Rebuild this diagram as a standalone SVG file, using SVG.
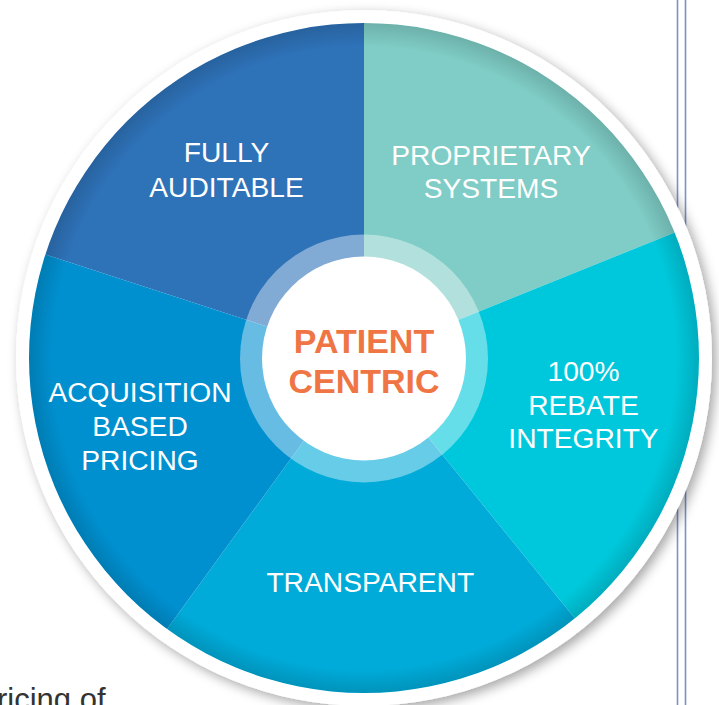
<svg xmlns="http://www.w3.org/2000/svg" width="719" height="705" viewBox="0 0 719 705">
  <defs>
    <style>
      .lbl { font-family: "Liberation Sans", Arial, sans-serif; font-size: 28.2px; fill: #ffffff; text-anchor: middle; }
      .ctr { font-family: "Liberation Sans", Arial, sans-serif; font-size: 34px; font-weight: bold; fill: #F07545; text-anchor: middle; }
      .vline { stroke: #7b93c6; stroke-width: 1.6; fill: none; }
    </style>
    <filter id="shadow" x="-10%" y="-10%" width="125%" height="125%">
      <feDropShadow dx="4" dy="4" stdDeviation="6" flood-color="#000000" flood-opacity="0.35"/>
    </filter>
    <clipPath id="disc">
      <circle cx="364" cy="358" r="335"/>
    </clipPath>
    <radialGradient id="edge" cx="364" cy="358" r="335" gradientUnits="userSpaceOnUse">
      <stop offset="0.93" stop-color="#000" stop-opacity="0"/>
      <stop offset="1" stop-color="#000" stop-opacity="0.14"/>
    </radialGradient>
  </defs>

  <rect width="719" height="705" fill="#ffffff"/>

  <line class="vline" x1="677.5" y1="0" x2="677.5" y2="705"/>
  <line class="vline" x1="685.5" y1="0" x2="685.5" y2="705"/>

  <text x="-3" y="710" font-family="Liberation Sans, Arial, sans-serif" font-size="31" fill="#333333">ricing of</text>

  <circle cx="364" cy="358" r="348" fill="#ffffff" filter="url(#shadow)"/>

  <g clip-path="url(#disc)">
    <g id="fully-auditable">
      <polygon points="364,358 -111.5,203.5 364,-142" fill="#2E72B8"/>
      <text class="lbl" x="226.5" y="161.7">FULLY</text>
      <text class="lbl" x="226.5" y="196.5">AUDITABLE</text>
    </g>
    <g id="proprietary-systems">
      <polygon points="364,358 364,-142 827.6,170.7" fill="#7FCDC6"/>
      <text class="lbl" x="491" y="165">PROPRIETARY</text>
      <text class="lbl" x="491" y="198">SYSTEMS</text>
    </g>
    <g id="rebate-integrity">
      <polygon points="364,358 827.6,170.7 678.7,746.6" fill="#00C8DC"/>
      <text class="lbl" x="583.5" y="380.7">100%</text>
      <text class="lbl" x="583.5" y="415">REBATE</text>
      <text class="lbl" x="583.5" y="448.3">INTEGRITY</text>
    </g>
    <g id="transparent">
      <polygon points="364,358 678.7,746.6 70.1,762.5" fill="#00ABD9"/>
      <text class="lbl" x="370.3" y="592.3">TRANSPARENT</text>
    </g>
    <g id="acquisition-based-pricing">
      <polygon points="364,358 70.1,762.5 -111.5,203.5" fill="#0090D0"/>
      <text class="lbl" x="140" y="401.7">ACQUISITION</text>
      <text class="lbl" x="140" y="435.7">BASED</text>
      <text class="lbl" x="140" y="470">PRICING</text>
    </g>
    <circle cx="364" cy="358" r="335" fill="url(#edge)"/>
  </g>

  <g id="patient-centric">
    <circle cx="364" cy="358.5" r="124" fill="#ffffff" fill-opacity="0.4"/>
    <circle cx="364" cy="358.5" r="102" fill="#ffffff"/>
    <text class="ctr" x="364" y="353">PATIENT</text>
    <text class="ctr" x="364" y="393">CENTRIC</text>
  </g>
</svg>
